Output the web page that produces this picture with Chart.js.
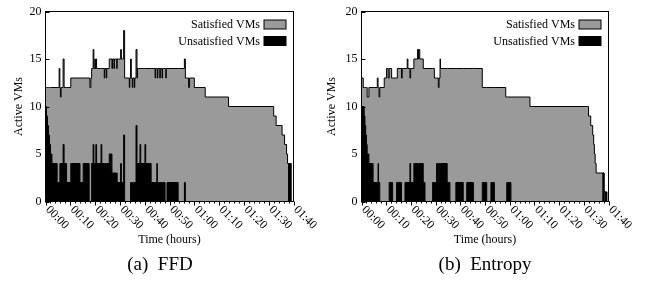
<!DOCTYPE html>
<html><head><meta charset="utf-8">
<script src="https://cdn.jsdelivr.net/npm/chart.js@4.4.1/dist/chart.umd.min.js"></script>
<style>
html,body{margin:0;padding:0;background:#fff;width:645px;height:283px;overflow:hidden;}
#a{position:absolute;left:0;top:0;}
#b{position:absolute;left:320px;top:0;}
</style></head><body>
<canvas id="a" width="320" height="283"></canvas>
<canvas id="b" width="325" height="283"></canvas>
<script>
// ---- tick labels (x: minutes 0..100 every 10) ----
const tickLabels = ['00:00','00:10','00:20','00:30','00:40','00:50','01:00','01:10','01:20','01:30','01:40'];
const yTicks = [0, 5, 10, 15, 20];
const seriesNames = ['Satisfied VMs', 'Unsatisfied VMs'];

// ---- (a) FFD : time in minutes, step values ----
const ffdTimes = [0,0.4,0.8,1.2,1.6,2.0,2.6,4.7,5.5,5.8,6.0,6.3,7.1,7.5,8.5,10.2,13.9,15.2,17.6,17.9,18.3,18.6,19.2,19.5,19.9,20.1,20.3,20.6,22.4,22.7,23.7,23.9,24.5,24.7,25.7,26.8,27.0,27.6,27.8,28.7,28.9,30.3,30.6,31.5,31.9,33.8,34.0,34.3,34.6,35.0,35.2,35.8,36.0,36.5,36.9,37.1,38.1,38.4,40.1,40.4,42.6,44.2,44.4,44.9,45.1,45.3,46.1,46.3,47.0,47.2,48.2,48.5,48.7,49.0,53.5,56.0,56.4,57.7,58.1,60.0,64.4,73.8,92.0,93.0,95.4,96.4,97.2,97.6,98.0,99.0];
const ffdUnsatisfied = [10,9,8,7,6,5,4,2,2,4,4,4,6,4,2,4,2,4,0,0,0,4,6,4,4,4,6,4,6,4,4,4,4,4,5,3,3,3,3,3,2,4,2,7,0,0,0,2,2,2,2,2,2,8,4,4,6,4,6,4,2,2,2,4,2,2,2,2,2,2,0,0,0,2,0,2,0,0,0,0,0,0,0,0,0,0,0,0,4,0];
const ffdSatisfied   = [2,3,4,5,6,7,8,10,12,8,7,8,9,8,10,9,11,9,13,12,13,10,10,10,11,10,9,10,8,10,9,10,9,10,10,11,12,11,12,11,13,12,13,11,13,12,13,13,11,10,11,10,11,8,9,10,8,10,8,10,12,11,12,10,11,12,11,12,11,12,14,13,14,12,14,13,13,12,13,12,11,10,9,8,7,6,5,4,0,0];

// ---- (b) Entropy ----
const entTimes = [0,0.7,1.1,1.4,1.7,2.0,2.3,3.0,4.7,6.4,6.7,6.9,7.1,7.4,9.2,10.1,10.8,11.2,12.2,12.6,14.2,14.5,16.2,16.5,17.6,18.5,18.8,19.6,19.9,21.2,22.7,23.0,23.2,23.6,25.0,25.7,28.8,29.5,30.4,31.1,31.4,31.8,32.0,34.7,35.8,38.2,41.2,42.6,45.3,48.9,50.7,52.4,53.8,58.4,58.8,60.5,68.2,91.9,92.8,93.6,94.0,94.3,94.6,95.0,97.7,98.2,98.6,99.3];
const entUnsatisfied = [10,10,9,8,7,6,5,4,2,2,4,2,2,0,0,0,0,2,2,0,2,2,0,0,2,2,2,4,2,4,4,4,4,4,2,0,2,2,4,2,4,4,4,2,0,2,0,2,0,2,0,2,0,0,2,0,0,0,0,0,0,0,0,0,3,0,1,0];
const entSatisfied   = [3,2,3,4,5,6,6,8,10,11,8,10,9,12,13,14,13,12,11,13,11,12,13,14,12,13,12,9,12,11,12,11,12,11,12,14,12,11,9,10,9,11,10,12,14,12,14,12,14,10,12,10,12,11,9,11,10,9,8,7,6,5,4,3,0,1,0,0];

Chart.defaults.font.family = "'Liberation Serif','Times New Roman',serif";
Chart.defaults.color = '#000';

function makeChart(id, times, sat, unsat, caption, L) {
  const pts = arr => times.map((t, i) => ({x: t, y: arr[i]}));
  const deco = {
    id: 'deco',
    afterDraw(chart) {
      const {ctx, chartArea: ca, scales: {x, y}} = chart;
      ctx.save();
      ctx.strokeStyle = '#000'; ctx.fillStyle = '#000'; ctx.lineWidth = 1;
      ctx.strokeRect(ca.left, ca.top, ca.right - ca.left, ca.bottom - ca.top);
      ctx.beginPath();
      yTicks.forEach(v => { const py = Math.round(y.getPixelForValue(v)) + 0.5; ctx.moveTo(ca.left, py); ctx.lineTo(ca.left + 4, py); });
      for (let m = 0; m <= 100; m += 2) {
        const px = Math.round(x.getPixelForValue(m)) + 0.5;
        const len = (m % 10 === 0) ? 4 : 2;
        ctx.moveTo(px, ca.bottom); ctx.lineTo(px, ca.bottom + len);
      }
      ctx.stroke();
      ctx.font = "12px 'Liberation Serif'";
      ctx.textAlign = 'left'; ctx.textBaseline = 'middle';
      tickLabels.forEach((lab, i) => {
        const px = x.getPixelForValue(i * 10);
        ctx.save(); ctx.translate(px + 2, ca.bottom + 6.5); ctx.rotate(Math.PI / 4);
        ctx.fillText(lab, 0, 0); ctx.restore();
      });
      const cx = (ca.left + ca.right) / 2;
      ctx.textAlign = 'center';
      ctx.fillText('Time (hours)', cx, 240);
      ctx.font = "19px 'Liberation Serif'";
      ctx.fillText(caption, L.capX, 265);
      ctx.font = "12px 'Liberation Serif'";
      ctx.textAlign = 'right';
      const bx = ca.right - 29.5, bw = 22, bh = 9;
      [[seriesNames[0], '#9a9a9a', 8.5], [seriesNames[1], '#000', 25]].forEach(([t, c, dy]) => {
        ctx.fillStyle = c; ctx.fillRect(bx, ca.top + dy, bw, bh);
        ctx.strokeRect(bx, ca.top + dy, bw, bh);
        ctx.fillStyle = '#000'; ctx.fillText(t, bx - 4, ca.top + dy + bh / 2 + 0.5);
      });
      ctx.restore();
    }
  };
  return new Chart(document.getElementById(id), {
    type: 'line',
    data: { datasets: [
      { label: seriesNames[1], data: pts(unsat), stepped: true, fill: 'origin',
        backgroundColor: '#000', borderColor: '#000', borderWidth: 1, pointRadius: 0 },
      { label: seriesNames[0], data: pts(sat), stepped: true, fill: '-1',
        backgroundColor: '#9a9a9a', borderColor: '#000', borderWidth: 1, pointRadius: 0 }
    ]},
    options: {
      responsive: false, animation: false, events: [], devicePixelRatio: 1,
      layout: { padding: { left: L.padLeft, right: L.padRight, top: L.padTop, bottom: 0 } },
      plugins: { legend: { display: false }, tooltip: { enabled: false } },
      scales: {
        x: { type: 'linear', min: 0, max: 100, grid: { display: false, drawTicks: false },
             border: { display: false }, ticks: { display: false },
             afterFit(s) { s.height = L.xHeight; } },
        y: { stacked: true, min: 0, max: 20, grid: { display: false, drawTicks: false },
             border: { display: false },
             ticks: { stepSize: 5, padding: 4, font: { size: 12 } },
             title: { display: true, text: 'Active VMs', font: { size: 12 }, padding: 0 },
             afterFit(s) { s.width = L.yWidth; } }
      }
    },
    plugins: [deco]
  });
}

makeChart('a', ffdTimes, ffdSatisfied, ffdUnsatisfied, '(a)  FFD',
  { padLeft: 11.5, yWidth: 34, padRight: 26.5, padTop: 11.5, xHeight: 81.5, capX: 160 });
makeChart('b', entTimes, entSatisfied, entUnsatisfied, '(b)  Entropy',
  { padLeft: 5, yWidth: 36.5, padRight: 36.5, padTop: 11.5, xHeight: 81.5, capX: 165 });
</script>
</body></html>
